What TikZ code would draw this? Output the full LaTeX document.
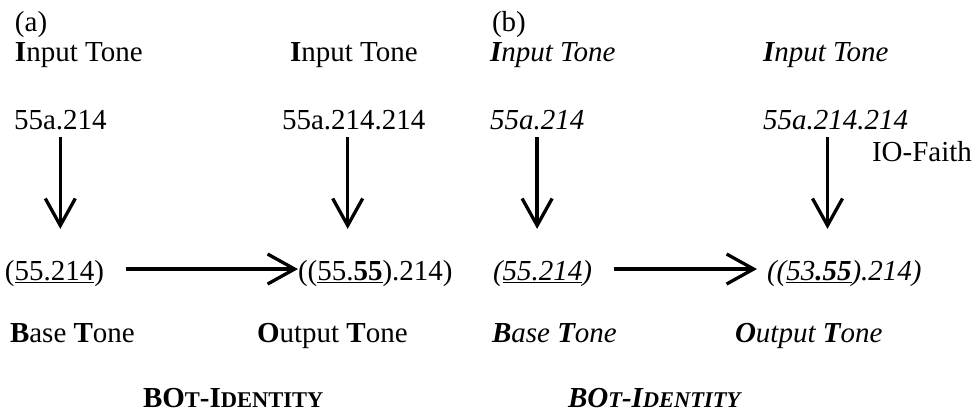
\documentclass[tikz,border=0pt]{standalone}
\usepackage{fontspec}
\setmainfont{Liberation Serif}
\usetikzlibrary{arrows.meta}
\newcommand\fakesc[1]{{\fontsize{22.5}{26}\selectfont #1}}
\begin{document}
\begin{tikzpicture}[x=1pt,y=-1pt,
  every node/.style={inner sep=0pt,outer sep=0pt,anchor=base west,font=\fontsize{29}{34}\selectfont},
  arr/.style={line width=3.3pt,-{Straight Barb[length=27pt,width=30pt]}}]
\useasboundingbox (0,0) rectangle (978,416);
% panel (a)
\node (la) at (15,31) {(a)};
\node (ina1) at (15,61) {\textbf{I}nput Tone};
\node (ina2) at (290,61) {\textbf{I}nput Tone};
\node (sa1) at (14,129) {55a.214};
\node (sa2) at (282,129) {55a.214.214};
\node (ba) at (5,280) {(\underline{55.214})};
\node (oa) at (298,280) {((\underline{55.\textbf{55}}).214)};
\node (bta) at (10,342) {\textbf{B}ase \textbf{T}one};
\node (ota) at (257,342) {\textbf{O}utput \textbf{T}one};
\node (ida) at (143,407) {\textbf{BO\fakesc{T}-I\fakesc{DENTITY}}};
% panel (b)
\node (lb) at (492,31) {(b)};
\node (inb1) at (490,61) {\itshape\textbf{I}nput Tone};
\node (inb2) at (763,61) {\itshape\textbf{I}nput Tone};
\node (sb1) at (490,129) {\itshape 55a.214};
\node (sb2) at (763,129) {\itshape 55a.214.214};
\node (io) at (872,161) {IO-Faith};
\node (bb) at (493,280) {\itshape(\underline{55.214})};
\node (ob) at (767,280) {\itshape((\underline{53\textbf{.55}}).214)};
\node (btb) at (492,342) {\itshape\textbf{B}ase \textbf{T}one};
\node (otb) at (735,342) {\itshape\textbf{O}utput \textbf{T}one};
\node (idb) at (568,407) {\itshape\textbf{BO\fakesc{T}-I\fakesc{DENTITY}}};
% vertical arrows
\draw[arr,shorten <=8pt,shorten >=31pt] (sa1.south) -- (sa1.south |- ba.north);
\draw[arr,shorten <=8pt,shorten >=31pt] ([xshift=-6pt]sa2.south) -- ([xshift=-6pt]sa2.south |- oa.north);
\draw[arr,shorten <=8pt,shorten >=31pt] (sb1.south) -- (sb1.south |- bb.north);
\draw[arr,shorten <=8pt,shorten >=31pt] ([xshift=-8pt]sb2.south) -- ([xshift=-8pt]sb2.south |- ob.north);
% horizontal arrows
\draw[arr,shorten <=22pt] ([yshift=4pt]ba.east) -- ([yshift=4pt]ba.east -| oa.west);
\draw[arr,shorten <=22pt,shorten >=10pt] ([yshift=4pt]bb.east) -- ([yshift=4pt]bb.east -| ob.west);
\end{tikzpicture}
\end{document}
